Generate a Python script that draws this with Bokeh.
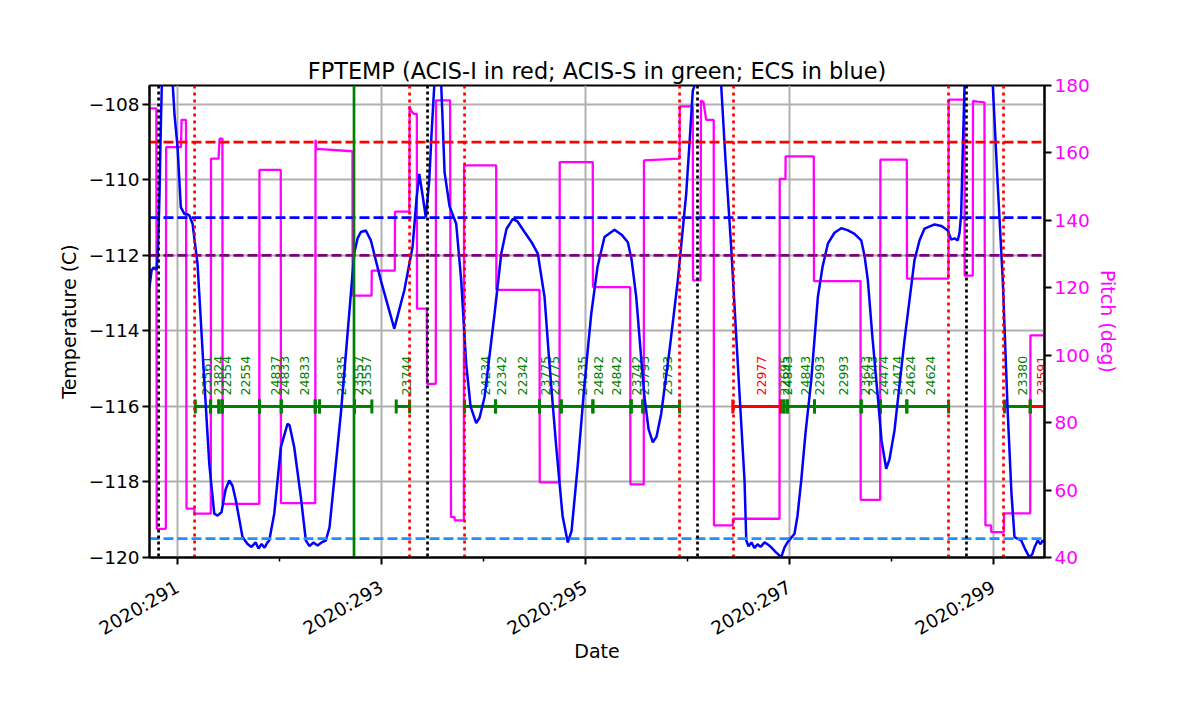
import math
from bokeh.plotting import figure
from bokeh.models import Range1d, LinearAxis, FixedTicker, Span, ColumnDataSource
from bokeh.core.properties import value
from bokeh.embed import file_html
from bokeh.resources import INLINE

# ---------------- data ----------------
title_text = "FPTEMP (ACIS-I in red; ACIS-S in green; ECS in blue)"

x_ticks = [291, 293, 295, 297, 299]
x_minor = [292, 294, 296, 298]
x_tick_labels = ["2020:291", "2020:293", "2020:295", "2020:297", "2020:299"]
temp_ticks = [-120, -118, -116, -114, -112, -110, -108]
pitch_ticks = [40, 60, 80, 100, 120, 140, 160, 180]

# pitch (deg) vs day of year 2020
pitch_day = [290.725, 290.792, 290.796, 290.885, 290.888, 291.034, 291.039, 291.083, 291.088,
             291.164, 291.167, 291.326, 291.328, 291.402, 291.412, 291.440, 291.442, 291.801,
             291.803, 292.012, 292.014, 292.350, 292.353, 292.360, 292.715, 292.717, 292.902,
             292.904, 293.130, 293.132, 293.272, 293.275, 293.290, 293.314, 293.346, 293.348,
             293.444, 293.446, 293.532, 293.534, 293.672, 293.681, 293.716, 293.718, 293.807,
             293.809, 294.124, 294.126, 294.549, 294.551, 294.745, 294.747, 295.071, 295.073,
             295.438, 295.440, 295.571, 295.573, 295.922, 295.924, 296.052, 296.054, 296.127,
             296.132, 296.157, 296.183, 296.257, 296.259, 296.444, 296.446, 296.902, 296.904,
             296.960, 296.962, 297.238, 297.240, 297.696, 297.698, 297.889, 297.891, 298.150,
             298.152, 298.558, 298.560, 298.715, 298.717, 298.797, 298.799, 298.843, 298.911,
             298.921, 298.977, 298.979, 299.101, 299.103, 299.360, 299.362, 299.500]
pitch_deg = [173.2, 173.2, 48.5, 48.5, 161.7, 161.7, 169.8, 169.8, 54.5,
             54.5, 53.0, 53.0, 158.3, 158.3, 164.2, 164.2, 55.9, 55.9,
             155.0, 155.0, 56.1, 56.1, 163.9, 161.2, 160.5, 117.7, 117.7,
             125.1, 125.1, 142.6, 142.6, 173.8, 172.5, 171.6, 171.6, 113.8,
             113.8, 91.5, 91.5, 175.6, 175.6, 52.0, 52.0, 51.0, 51.0,
             156.3, 156.3, 119.4, 119.4, 62.3, 62.3, 157.3, 157.3, 120.2,
             120.2, 61.7, 61.7, 157.8, 158.3, 173.8, 173.8, 122.2, 122.2,
             175.6, 175.0, 169.8, 169.8, 49.5, 49.5, 51.5, 51.5, 152.3,
             152.3, 159.0, 159.0, 122.0, 122.0, 57.1, 57.1, 158.0, 158.0,
             122.7, 122.7, 175.8, 175.8, 123.6, 123.6, 175.4, 175.2, 175.0,
             49.5, 49.5, 47.5, 47.5, 53.1, 53.1, 105.9, 105.9]

# focal plane temperature (C) vs day of year 2020
temp_day = [290.725, 290.745, 290.765, 290.794, 290.804, 290.815, 290.824, 290.836, 290.850,
            290.870, 290.900, 290.930, 290.951, 290.971, 291.000, 291.032, 291.066, 291.088,
            291.115, 291.147, 291.196, 291.262, 291.311, 291.360, 291.392, 291.431, 291.471,
            291.507, 291.539, 291.572, 291.637, 291.686, 291.725, 291.765, 291.794, 291.824,
            291.853, 291.882, 291.899, 291.948, 292.013, 292.078, 292.098, 292.144, 292.209,
            292.258, 292.294, 292.333, 292.373, 292.412, 292.454, 292.490, 292.536, 292.601,
            292.667, 292.732, 292.765, 292.797, 292.846, 292.895, 292.993, 293.125, 293.223,
            293.304, 293.343, 293.370, 293.402, 293.434, 293.468, 293.490, 293.517, 293.545,
            293.575, 293.600, 293.618, 293.667, 293.732, 293.781, 293.830, 293.873, 293.928,
            293.961, 294.010, 294.108, 294.174, 294.225, 294.287, 294.333, 294.402, 294.471,
            294.532, 294.598, 294.647, 294.713, 294.775, 294.826, 294.863, 294.925, 294.990,
            295.056, 295.118, 295.186, 295.284, 295.353, 295.415, 295.451, 295.497, 295.539,
            295.578, 295.618, 295.660, 295.696, 295.742, 295.824, 295.905, 295.987, 296.020,
            296.052, 296.078, 296.108, 296.167, 296.235, 296.294, 296.330, 296.373, 296.428,
            296.493, 296.559, 296.576, 296.598, 296.627, 296.657, 296.686, 296.716, 296.755,
            296.784, 296.821, 296.863, 296.919, 296.951, 296.980, 297.010, 297.049, 297.078,
            297.115, 297.157, 297.213, 297.278, 297.324, 297.376, 297.441, 297.507, 297.569,
            297.637, 297.703, 297.735, 297.768, 297.814, 297.866, 297.902, 297.948, 297.980,
            298.029, 298.127, 298.225, 298.275, 298.324, 298.422, 298.490, 298.552, 298.585,
            298.618, 298.650, 298.667, 298.683, 298.696, 298.716, 298.735, 298.814, 298.912,
            298.993, 299.039, 299.091, 299.140, 299.176, 299.206, 299.272, 299.314, 299.353,
            299.382, 299.402, 299.434, 299.461, 299.480, 299.500]
temp_c = [-112.84, -112.40, -112.32, -112.38, -112.05, -111.2, -110.3, -108.6, -107.0,
          -106.2, -105.9, -106.4, -107.4, -108.3, -109.13, -110.72, -110.90, -110.90,
          -110.94, -111.16, -112.22, -115.31, -117.52, -118.84, -118.89, -118.80, -118.20,
          -117.96, -118.10, -118.49, -119.46, -119.64, -119.72, -119.60, -119.76, -119.64,
          -119.74, -119.60, -119.55, -118.84, -117.08, -116.46, -116.50, -117.08, -118.40,
          -119.55, -119.70, -119.60, -119.68, -119.60, -119.55, -119.20, -117.96, -116.19,
          -114.07, -111.95, -111.55, -111.38, -111.34, -111.60, -112.66, -113.94, -112.93,
          -111.78, -110.50, -109.84, -110.40, -110.99, -110.01, -108.80, -107.50, -106.5,
          -106.8, -108.5, -109.8, -110.70, -111.16, -112.66, -114.87, -116.00, -116.44,
          -116.30, -115.75, -113.55, -111.95, -111.30, -111.03, -111.10, -111.38, -111.65,
          -111.95, -113.10, -114.90, -117.08, -118.90, -119.60, -119.30, -117.52, -115.40,
          -113.55, -112.30, -111.51, -111.32, -111.45, -111.65, -112.10, -113.10, -114.50,
          -115.75, -116.60, -116.95, -116.80, -116.19, -114.50, -112.66, -110.37, -109.00,
          -107.63, -107.45, -107.20, -106.5, -106.0, -106.8, -107.5, -109.5, -111.78,
          -114.87, -117.96, -119.55, -119.70, -119.60, -119.75, -119.65, -119.72, -119.60,
          -119.65, -119.73, -119.85, -119.99, -119.73, -119.60, -119.50, -119.37, -118.90,
          -117.96, -116.70, -115.31, -113.10, -112.30, -111.69, -111.40, -111.28, -111.33,
          -111.43, -111.60, -112.00, -112.66, -114.20, -115.75, -116.90, -117.65, -117.40,
          -116.64, -114.25, -112.13, -111.60, -111.29, -111.18, -111.22, -111.34, -111.58,
          -111.55, -111.60, -111.40, -110.90, -109.50, -107.50, -106.5, -105.5, -106.0,
          -107.5, -110.0, -112.66, -116.19, -118.30, -119.46, -119.55, -119.80, -120.00,
          -119.90, -119.73, -119.55, -119.65, -119.55, -119.60]

# limit lines (C)
limit_temps = [-109.0, -111.0, -112.0, -119.5]
limit_colors = ["red", "blue", "purple", "dodgerblue"]

# events (day of year)
black_events = [290.814, 293.451, 296.098, 298.735]
red_events = [291.167, 293.275, 293.814, 295.922, 296.451, 298.559, 299.098]
green_event = [292.730]

# obsid intervals
obs_start = [291.174, 291.324, 291.405, 291.438, 291.804, 292.017, 292.350, 292.392, 292.735,
             293.144, 293.814, 294.118, 294.549, 294.762, 295.072, 295.448, 295.562,
             296.444, 296.912, 296.944, 296.978, 297.245, 297.703, 297.892, 298.150,
             299.108, 299.360]
obs_stop = [291.324, 291.405, 291.438, 291.804, 292.017, 292.350, 292.392, 292.735, 292.905,
            293.275, 294.118, 294.549, 294.762, 295.072, 295.448, 295.562, 295.922,
            296.912, 296.944, 296.978, 297.245, 297.703, 297.892, 298.150, 298.560,
            299.360, 299.650]
obs_color = ["green"] * 17 + ["red"] + ["green"] * 8 + ["red"]

obs_label = ["23561", "23824", "22554", "22554", "24837", "24833", "24833", "24835", "23557",
             "23557", "23744", "24234", "22342", "22342", "23775", "23775", "24235", "24842",
             "24842", "23742", "23793", "23793", "22977", "22695", "24843", "24843", "22993",
             "22993", "23643", "23643", "24474", "24474", "24624", "24624", "23380", "23591"]
obs_label_day = [291.284, 291.402, 291.480, 291.667, 291.961, 292.049, 292.245, 292.608, 292.775,
                 292.853, 293.245, 294.020, 294.176, 294.382, 294.608, 294.696, 294.971, 295.127,
                 295.304, 295.500, 295.578, 295.804, 296.725, 296.946, 296.985, 297.157, 297.294,
                 297.529, 297.745, 297.814, 297.922, 298.059, 298.186, 298.382, 299.284, 299.471]
obs_label_color = ["green"] * 22 + ["red"] + ["green"] * 12 + ["red"]

OBS_Y = -116.0

# ---------------- figure ----------------
FONT = "DejaVu Sans"
GREEN = "#008000"
colmap = {"green": GREEN, "red": "#ff0000"}

p = figure(width=1184, height=698, output_backend="svg", toolbar_location=None,
           x_range=Range1d(290.725, 299.5), y_range=Range1d(-120, -107.5),
           min_border_left=149, min_border_right=140, min_border_top=85, min_border_bottom=141,
           title=title_text)
p.extra_y_ranges = {"pitch": Range1d(40, 180)}
p.background_fill_color = "white"
p.border_fill_color = "white"
p.outline_line_color = "black"
p.outline_line_width = 2
p.outline_line_alpha = 1.0

p.title.align = "center"
p.title.text_font = FONT
p.title.text_font_size = "22.4px"
p.title.text_font_style = "normal"
p.title.text_color = "black"
p.title.standoff = 4

xt = FixedTicker(ticks=x_ticks, minor_ticks=x_minor)
p.xaxis.ticker = xt
p.xaxis.major_label_overrides = {t: l for t, l in zip(x_ticks, x_tick_labels)}
p.xaxis.major_label_orientation = math.pi / 6
p.xaxis.axis_label = "Date"

yt = FixedTicker(ticks=temp_ticks)
p.yaxis.ticker = yt
p.yaxis.major_label_overrides = {t: str(t).replace("-", "\u2212") for t in temp_ticks}
p.yaxis.axis_label = "Temperature (C)"

pax = LinearAxis(y_range_name="pitch", ticker=FixedTicker(ticks=pitch_ticks), axis_label="Pitch (deg)")
p.add_layout(pax, "right")

for ax in [p.xaxis[0], p.yaxis[0], pax]:
    ax.axis_line_color = "black"
    ax.axis_line_width = 2
    ax.major_tick_line_color = "black"
    ax.major_tick_line_width = 2
    ax.major_tick_out = 7
    ax.major_tick_in = 0
    ax.minor_tick_line_color = "black"
    ax.minor_tick_line_width = 1.5
    ax.minor_tick_out = 4
    ax.minor_tick_in = 0
    ax.major_label_text_font = FONT
    ax.major_label_text_font_size = "18.5px"
    ax.major_label_text_color = "black"
    ax.major_label_standoff = 3
    ax.axis_label_text_font = FONT
    ax.axis_label_text_font_size = "19px"
    ax.axis_label_text_font_style = "normal"
    ax.axis_label_text_color = "black"
    ax.axis_label_standoff = 6
pax.major_label_text_color = "#ff00ff"
pax.axis_label_text_color = "#ff00ff"
pax.axis_label_standoff = 4
p.xaxis.major_label_standoff = 21
p.xaxis.axis_label_standoff = -11

p.xgrid.ticker = xt
p.ygrid.ticker = yt
for g in [p.xgrid[0], p.ygrid[0]]:
    g.grid_line_color = "#b0b0b0"
    g.grid_line_width = 2
    g.minor_grid_line_color = None

# pitch
p.line(pitch_day, pitch_deg, y_range_name="pitch", line_color="#ff00ff", line_width=2.3)

# limit lines
for t, c in zip(limit_temps, limit_colors):
    p.add_layout(Span(location=t, dimension="width", line_color=c, line_width=2.7,
                      line_dash="10 4", level="glyph"))
for d in red_events:
    p.add_layout(Span(location=d, dimension="height", line_color="red", line_width=2.7,
                      line_dash="3 4", level="glyph"))
for d in black_events:
    p.add_layout(Span(location=d, dimension="height", line_color="black", line_width=2.7,
                      line_dash="3 3", level="glyph"))
for d in green_event:
    p.add_layout(Span(location=d, dimension="height", line_color=GREEN, line_width=2.7,
                      level="glyph"))

# obsid bars
cols = [colmap[c] for c in obs_color]
p.segment(x0=obs_start, y0=[OBS_Y] * len(obs_start), x1=obs_stop, y1=[OBS_Y] * len(obs_start),
          line_color=cols, line_width=3)
cap_x = obs_start + obs_stop
cap_c = cols + cols
p.segment(x0=cap_x, y0=[OBS_Y - 0.185] * len(cap_x), x1=cap_x, y1=[OBS_Y + 0.185] * len(cap_x),
          line_color=cap_c, line_width=3)

lsrc = ColumnDataSource(dict(x=obs_label_day, y=[OBS_Y + 0.29] * len(obs_label_day),
                             text=obs_label, color=[colmap[c] for c in obs_label_color]))
p.text(x="x", y="y", text="text", source=lsrc, angle=math.pi / 2, text_align="left",
       text_baseline="middle", text_color="color", text_font=value(FONT),
       text_font_size="12.5px")

# temperature
p.line(temp_day, temp_c, line_color="blue", line_width=2.5)

open("out.html", "w").write(file_html(p, INLINE))
